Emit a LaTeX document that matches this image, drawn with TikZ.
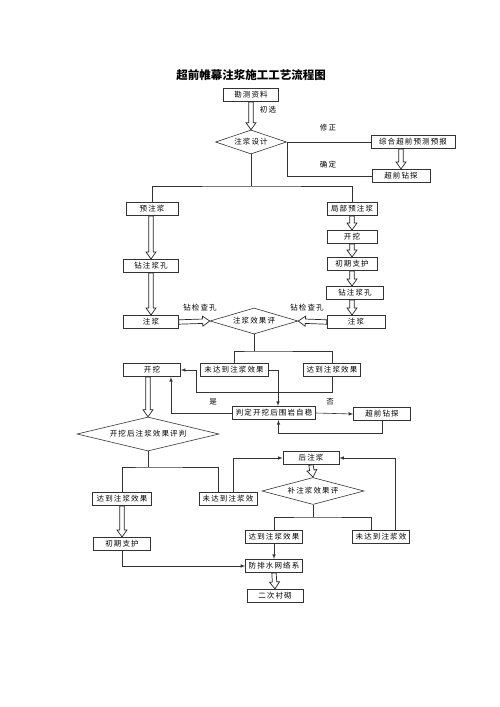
\documentclass[tikz,border=0pt]{standalone}
\usepackage{fontspec}
\newfontfamily\cjk[LetterSpace=15]{Noto Sans CJK SC}
\newfontfamily\cjktitle{Noto Sans CJK SC}
\usetikzlibrary{calc,shapes.geometric}
\newcommand{\hollowarr}[2]{%
  \draw[hollowline] let \p1=(#1), \p2=(#2), \p3=($(\p2)!7pt!(\p1)$) in
    ($(\p1)!2.2pt!90:(\p2)$) -- ($(\p3)!2.2pt!-90:(\p1)$) -- ($(\p3)!5pt!-90:(\p1)$) -- (\p2)
    -- ($(\p3)!5pt!90:(\p1)$) -- ($(\p3)!2.2pt!90:(\p1)$) -- ($(\p1)!2.2pt!-90:(\p2)$) -- cycle;}
\tikzset{
  box/.style={draw=black!80, line width=0.6pt, minimum height=13.5pt, inner sep=1pt,
    font=\cjk\fontsize{7.5}{9}\selectfont},
  dia/.style={draw=black!80, line width=0.6pt, diamond, inner sep=0pt,
    font=\cjk\fontsize{7.5}{9}\selectfont},
  lbl/.style={inner sep=0pt, font=\cjk\fontsize{7.5}{9}\selectfont},
  hollowline/.style={draw=black!85, line width=0.7pt, fill=white},
  conn/.style={draw=black!80, line width=0.6pt}
}
\begin{document}
\begin{tikzpicture}[x=1pt,y=-1pt,>=latex]
\useasboundingbox (0,0) rectangle (500,707);
\node (title) at (251,75) {\cjktitle\fontsize{11.5}{13}\selectfont\bfseries 超前帷幕注浆施工工艺流程图};
\node[box,minimum width=55pt] (kc) at (251,95) {勘测资料};
\node[dia,aspect=2.96,minimum width=71pt,minimum height=24pt] (zjsj) at (251,142) {注浆设计};
\node[box,minimum width=84pt] (zhyb) at (413,142) {综合超前预测预报};
\node[box,minimum width=58pt] (cqzt) at (401,176) {超前钻探};
\node[box,minimum width=52pt] (yzj) at (152,209) {预注浆};
\node[box,minimum width=50pt] (jbyzj) at (352,209) {局部预注浆};
\node[box,minimum width=50pt] (kw1) at (352,237) {开挖};
\node[box,minimum width=50pt] (cqzh1) at (352,264) {初期支护};
\node[box,minimum width=55pt] (zzjk1) at (151,266) {钻注浆孔};
\node[box,minimum width=57pt] (zzjk2) at (355,293) {钻注浆孔};
\node[box,minimum width=55pt] (zj1) at (151,322) {注浆};
\node[box,minimum width=58pt] (zj2) at (356,322) {注浆};
\node[dia,aspect=3.38,minimum width=88pt,minimum height=26pt] (xgp) at (254,321) {注浆效果评};
\node[box,minimum width=68pt] (wdd1) at (234,370) {未达到注浆效果};
\node[box,minimum width=57pt] (dd1) at (332,370) {达到注浆效果};
\node[box,minimum width=57pt] (kw2) at (152,370) {开挖};
\node[box,minimum width=83pt] (pd) at (274,413) {判定开挖后围岩自稳};
\node[box,minimum width=57pt] (cqzt2) at (382,414) {超前钻探};
\node[dia,aspect=4.18,minimum width=142pt,minimum height=34pt] (kwp) at (148,434) {开挖后注浆效果评判};
\node[box,minimum width=59pt] (dd2) at (122,499) {达到注浆效果};
\node[box,minimum width=58pt] (wdd2) at (228,499) {未达到注浆效};
\node[box,minimum width=56pt] (hzj) at (311,458) {后注浆};
\node[dia,aspect=3.78,minimum width=102pt,minimum height=27pt] (bzp) at (313,491) {补注浆效果评};
\node[box,minimum width=57pt] (dd3) at (274,537) {达到注浆效果};
\node[box,minimum width=57pt] (wdd3) at (381,537) {未达到注浆效};
\node[box,minimum width=57pt] (cqzh2) at (122,544) {初期支护};
\node[box,minimum width=57pt] (fps) at (274,566) {防排水网络系};
\node[box,minimum width=56pt] (ecc) at (275,596) {二次衬砌};

\node[lbl] (cx) at (268,110) {初选};
\node[lbl] (xz) at (328,128) {修正};
\node[lbl] (qd) at (328,165) {确定};
\node[lbl] (zjc1) at (200,308) {钻检查孔};
\node[lbl] (zjc2) at (307,308) {钻检查孔};
\node[lbl] (shi) at (213,402) {是};
\node[lbl] (fou) at (330,402) {否};

\coordinate (b1) at (251,186);
\coordinate (b2) at (254,351);
\coordinate (b3) at (148,467);
\coordinate (b4) at (313,517);

\hollowarr{kc.south}{zjsj.north}
\draw[conn] (zjsj.east) -- (zhyb.west);
\hollowarr{cqzt.north |- zhyb.south}{cqzt.north}
\draw[conn] (zjsj.east) |- (cqzt.west);
\draw[conn] (zjsj.south) -- (b1);
\draw[conn] (yzj.north) |- (b1) -| (jbyzj.north);
\hollowarr{zzjk1.north |- yzj.south}{zzjk1.north}
\hollowarr{zzjk1.south}{zj1.north}
\hollowarr{jbyzj.south}{kw1.north}
\hollowarr{kw1.south}{cqzh1.north}
\hollowarr{cqzh1.south}{cqzh1.south |- zzjk2.north}
\hollowarr{cqzh1.south |- zzjk2.south}{cqzh1.south |- zj2.north}
\hollowarr{zj1.east}{xgp.west}
\hollowarr{zj2.west}{xgp.east}
\draw[conn] (xgp.south) -- (b2);
\draw[conn] (wdd1.north) |- (b2) -| (dd1.north);
\draw[conn,->] (dd1.south) -- ++(0,15) -| ([xshift=15pt]kw2.east) -- (kw2.east);
\draw[conn,->] (wdd1.east) -| ([xshift=4pt]pd.north);
\draw[conn,->] (pd.west) -| ([xshift=19pt]kw2.south);
\draw[conn,->] (pd.east) -- (cqzt2.west);
\draw[conn,->] (cqzt2.south) -- ++(0,12) -| ([xshift=4.5pt]pd.south);
\hollowarr{kwp.north |- kw2.south}{kwp.north}
\draw[conn] (kwp.south) -- (b3);
\draw[conn] (dd2.north) |- (b3) -| ([xshift=-10pt]wdd2.north);
\draw[conn,->] ([xshift=5pt]wdd2.north) |- (hzj.west);
\hollowarr{hzj.south}{bzp.north}
\draw[conn] (bzp.south) -- (b4);
\draw[conn] (dd3.north) |- (b4) -| ([xshift=-10pt]wdd3.north);
\draw[conn,->] ([xshift=14pt]wdd3.north) |- (hzj.east);
\hollowarr{dd2.south}{cqzh2.north}
\draw[conn,->] (dd3.south) -- (fps.north);
\draw[conn,->] (cqzh2.south) |- (fps.west);
\hollowarr{fps.south}{ecc.north}
\end{tikzpicture}
\end{document}
